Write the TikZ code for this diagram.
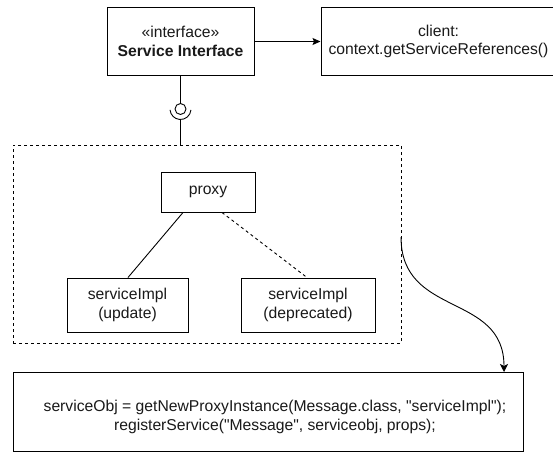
\documentclass[tikz,border=0pt]{standalone}
\usepackage{fontspec}
\setmainfont{Liberation Sans}[Ligatures=TeXOff]
\usetikzlibrary{arrows.meta,calc}
\begin{document}
\begin{tikzpicture}[x=1pt,y=-1pt,
  every node/.style={font=\fontsize{15.7}{18.5}\selectfont, text=black!90},
  box/.style={draw, line width=1pt, inner sep=0pt, align=center},
  link/.style={line width=0.9pt},
  frame/.style={draw, line width=0.9pt, dash pattern=on 3pt off 3pt, inner sep=0pt}]
  \useasboundingbox (0,0) rectangle (553,452);

  % top row: the interface and its client
  \node[box, minimum width=147pt, minimum height=67pt] (si) at (180.5,41.5)
    {«interface»\\\textbf{Service Interface}};
  \node[box, minimum width=235pt, minimum height=67pt] (cl) at (438.5,41.5)
    {client:\\context.getServiceReferences()};
  \draw[link, -{Stealth[length=8pt,width=7pt,inset=1.5pt]}] (si.east) -- (cl.west);

  % dashed container with the proxy and its two implementations
  \node[frame, minimum width=388pt, minimum height=198pt] (grp) at (207,244) {};
  \node[box, minimum width=94pt, minimum height=40pt] (proxy) at (208,192) {proxy};
  \node[box, minimum width=121pt, minimum height=54pt] (upd) at (127.5,305)
    {serviceImpl\\(update)};
  \node[box, minimum width=134pt, minimum height=54pt] (dep) at (308,305)
    {serviceImpl\\(deprecated)};
  \draw[link] ([xshift=-25pt]proxy.south) -- ([xshift=0.5pt]upd.north);
  \draw[link, dash pattern=on 3pt off 3pt] ([xshift=14pt]proxy.south) -- ([xshift=-1pt]dep.north);

  % provided/required interface (ball and socket)
  \node[circle, draw, line width=0.9pt, minimum size=11pt, inner sep=0pt] (ball) at (180.5,109) {};
  \draw[link] (si.south) -- (ball.north);
  \draw[link] (ball.center) ++(5:10.5) arc[start angle=5, end angle=175, radius=10.5];
  \coordinate (sock) at (180.5,119.5);
  \draw[link] (sock) -- (sock |- grp.north);

  % registration code
  \node[box, minimum width=510pt, minimum height=79pt] (reg) at (268,411.5) {};
  \node[align=center, inner sep=0pt] (code) at (275,417)
    {serviceObj = getNewProxyInstance(Message.class, "serviceImpl");\\registerService("Message", serviceobj, props);};

  % curved arrow from the container to the registration code
  \coordinate (cs) at (401,237);
  \coordinate (ce) at (504,372);
  \draw[link, -{Stealth[length=8pt,width=8pt,inset=2pt]}] (cs) .. controls (401,318) and (504,292) .. (ce);
\end{tikzpicture}
\end{document}
